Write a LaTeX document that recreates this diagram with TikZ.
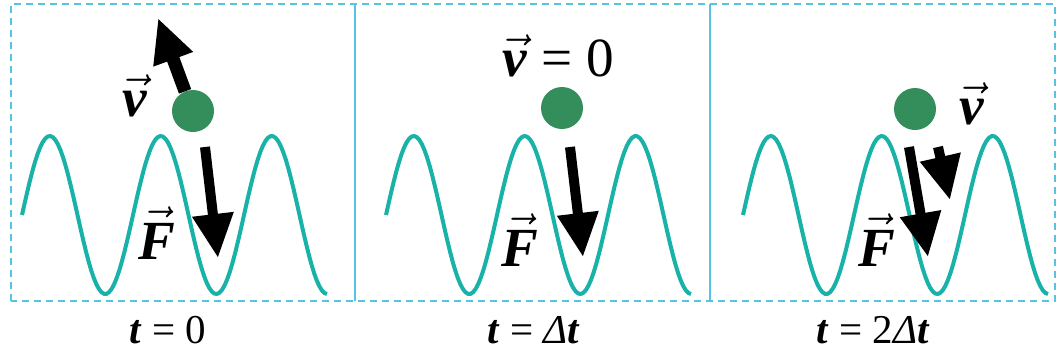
\documentclass[tikz,border=0pt]{standalone}
\usepackage{fontspec}
\setmainfont{Liberation Serif}
\usetikzlibrary{arrows.meta,calc,positioning}
\definecolor{framecol}{RGB}{85,195,225}
\definecolor{wavecol}{RGB}{25,178,168}
\definecolor{ballcol}{RGB}{52,142,92}
\newcommand{\biglbl}[1]{\scalebox{2.3}{\fontsize{24}{26}\selectfont #1}}
\newcommand{\vvec}{\ensuremath{\vec{\textbf{\textit{v}}}}}
\newcommand{\Fvec}{\ensuremath{\vec{\textbf{\textit{F}}}}}
\newcommand{\tval}[1]{\textbf{\textit{t}} = #1}
\newcommand{\wave}[1]{\begin{scope}[shift={(#1,0)}]
  \draw[wavecol,line width=4pt] plot[domain=22:327,samples=120] (\x,{215-79*sin(3.2432*(\x-22))});\end{scope}}

\begin{document}
\begin{tikzpicture}[x=1pt,y=-1pt,
  ball/.style={circle,fill=ballcol,minimum size=42pt,inner sep=0pt},
  bigarrow/.style={line width=11pt,-{Triangle[width=39pt,length=44pt]}},
  veclbl/.style={inner sep=0pt},
  timelbl/.style={font=\fontsize{41}{44}\selectfont,inner sep=0pt}]
\useasboundingbox (0,0) rectangle (1057,354);
\draw[framecol,line width=1.5pt,dash pattern=on 7pt off 5pt] (11,301)--(11,4)--(1055,4)--(1055,301)--cycle;
\draw[framecol,line width=1.3pt] (355,4)--(355,301);
\draw[framecol,line width=1.3pt] (710,4)--(710,301);
\wave{0}
\wave{364}
\wave{721}
\node[ball] (b1) at (193,111) {};
\node[ball] (b2) at (562,108) {};
\node[ball] (b3) at (915,109) {};
\coordinate (v1) at (158,18);
\coordinate (f1a) at (205,147);
\coordinate (f1b) at (218,258);
\coordinate (f2a) at (570,147);
\coordinate (f2b) at (583,257);
\coordinate (f3a) at (909,147);
\coordinate (f3b) at (928,257);
\coordinate (v3a) at (938,147);
\coordinate (v3b) at (950,200);
\draw[bigarrow,line width=13pt] (b1.112)--(v1);
\draw[bigarrow,line width=10pt] (f1a)--(f1b);
\draw[bigarrow,line width=10pt] (f2a)--(f2b);
\draw[bigarrow,line width=10pt] (f3a)--(f3b);
\draw[bigarrow,line width=10pt] (v3a)--(v3b);
\node[veclbl] (lv1) at (135,96) {\biglbl{\vvec}};
\node[veclbl] (lf1) at (157,233) {\biglbl{\Fvec}};
\node[veclbl] (lv2) at (558,56) {\biglbl{\vvec\ = 0}};
\node[veclbl] (lf2) at (520,240) {\biglbl{\Fvec}};
\node[veclbl] (lf3) at (877,240) {\biglbl{\Fvec}};
\node[veclbl] (lv3) at (972,104) {\biglbl{\vvec}};
\node[timelbl] (t1) at (168,330) {\tval{0}};
\node[timelbl] (t2) at (534,330) {\tval{\textit{Δ}\textbf{\textit{t}}}};
\node[timelbl] (t3) at (873,330) {\tval{2\textit{Δ}\textbf{\textit{t}}}};
\end{tikzpicture}
\end{document}
